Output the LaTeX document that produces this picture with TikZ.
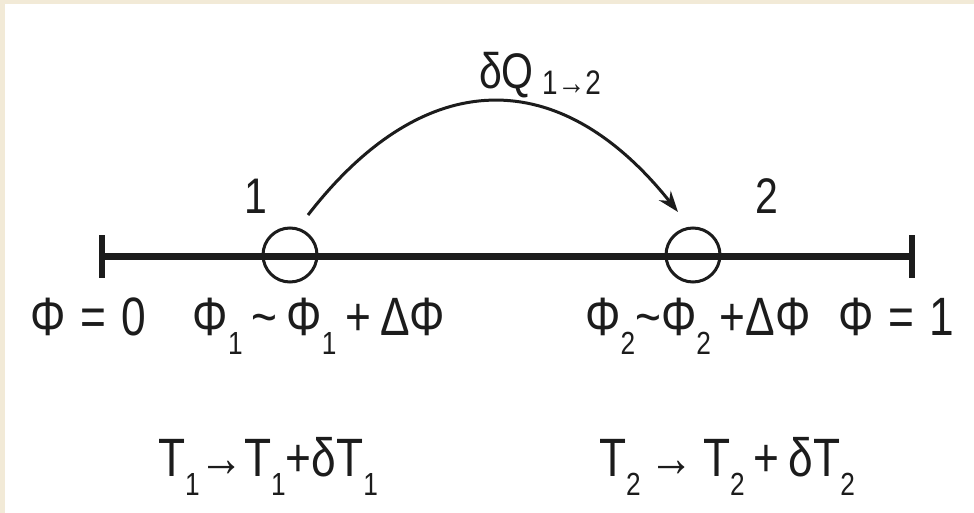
\documentclass[tikz,border=0pt]{standalone}
\usepackage{fontspec}
\setmainfont{Liberation Sans}[FakeStretch=0.82]
\usetikzlibrary{arrows.meta}
\definecolor{ink}{HTML}{1C1C1C}
\definecolor{paper}{HTML}{F2EAD7}
\newcommand\lowsub[1]{\raisebox{-0.36em}{\fontsize{32}{32}\selectfont #1}}
\newcommand\qsub[1]{\raisebox{-0.12em}{\fontsize{34}{34}\selectfont #1}}
\begin{document}
\begin{tikzpicture}[x=1pt, y=-1pt,
  lbl/.style={text=ink, inner sep=0pt, anchor=base, font=\fontsize{54}{54}\selectfont},
  ring/.style={draw=ink, circle, line width=3pt, minimum size=54pt, inner sep=0pt}]
  \fill[paper] (0,0) rectangle (974,513);
  \fill[white] (5,4) rectangle (974,513);
  \useasboundingbox (0,0) rectangle (974,513);
  % the interval from phi = 0 to phi = 1
  \coordinate (L) at (102,256);
  \coordinate (R) at (912,256);
  \draw[ink, line width=7pt] (L) -- (R);
  \draw[ink, line width=6pt] (L) ++(0,-21) -- ++(0,43);
  \draw[ink, line width=6pt] (R) ++(0,-21) -- ++(0,43);
  \node[ring] (c1) at (290,255) {};
  \node[ring] (c2) at (693,255) {};
  \node[lbl, font=\fontsize{50}{50}\selectfont] (n1) at (256,213) {1};
  \node[lbl, font=\fontsize{50}{50}\selectfont] (n2) at (767,213) {2};
  % heat passed from element 1 to element 2
  \coordinate (qs) at (308,215);
  \coordinate (qe) at (678,212);
  \draw[ink, line width=3pt, -{Stealth[length=21pt,width=15pt]}]
    (qs) .. controls (425,64) and (560,64) .. (qe);
  \node[lbl, font=\fontsize{50}{50}\selectfont] (dq) at (540,89) {δQ\,\qsub{1→2}};
  % positions along the interval
  \node[lbl] (p0) at (88,335) {Φ\;=\;0};
  \node[lbl] (p1) at (319,335) {Φ\lowsub{1}\,\textasciitilde\,Φ\lowsub{1}\,+\,ΔΦ};
  \node[lbl] (p2) at (698,335) {Φ\lowsub{2}\textasciitilde Φ\lowsub{2}\,+ΔΦ};
  \node[lbl] (p3) at (896,335) {Φ\;=\;1};
  % temperature changes
  \node[lbl] (t1) at (268,476) {T\lowsub{1}→T\lowsub{1}+δT\lowsub{1}};
  \node[lbl] (t2) at (727,476) {T\lowsub{2}\,→\,T\lowsub{2}\,+\,δT\lowsub{2}};
\end{tikzpicture}
\end{document}
